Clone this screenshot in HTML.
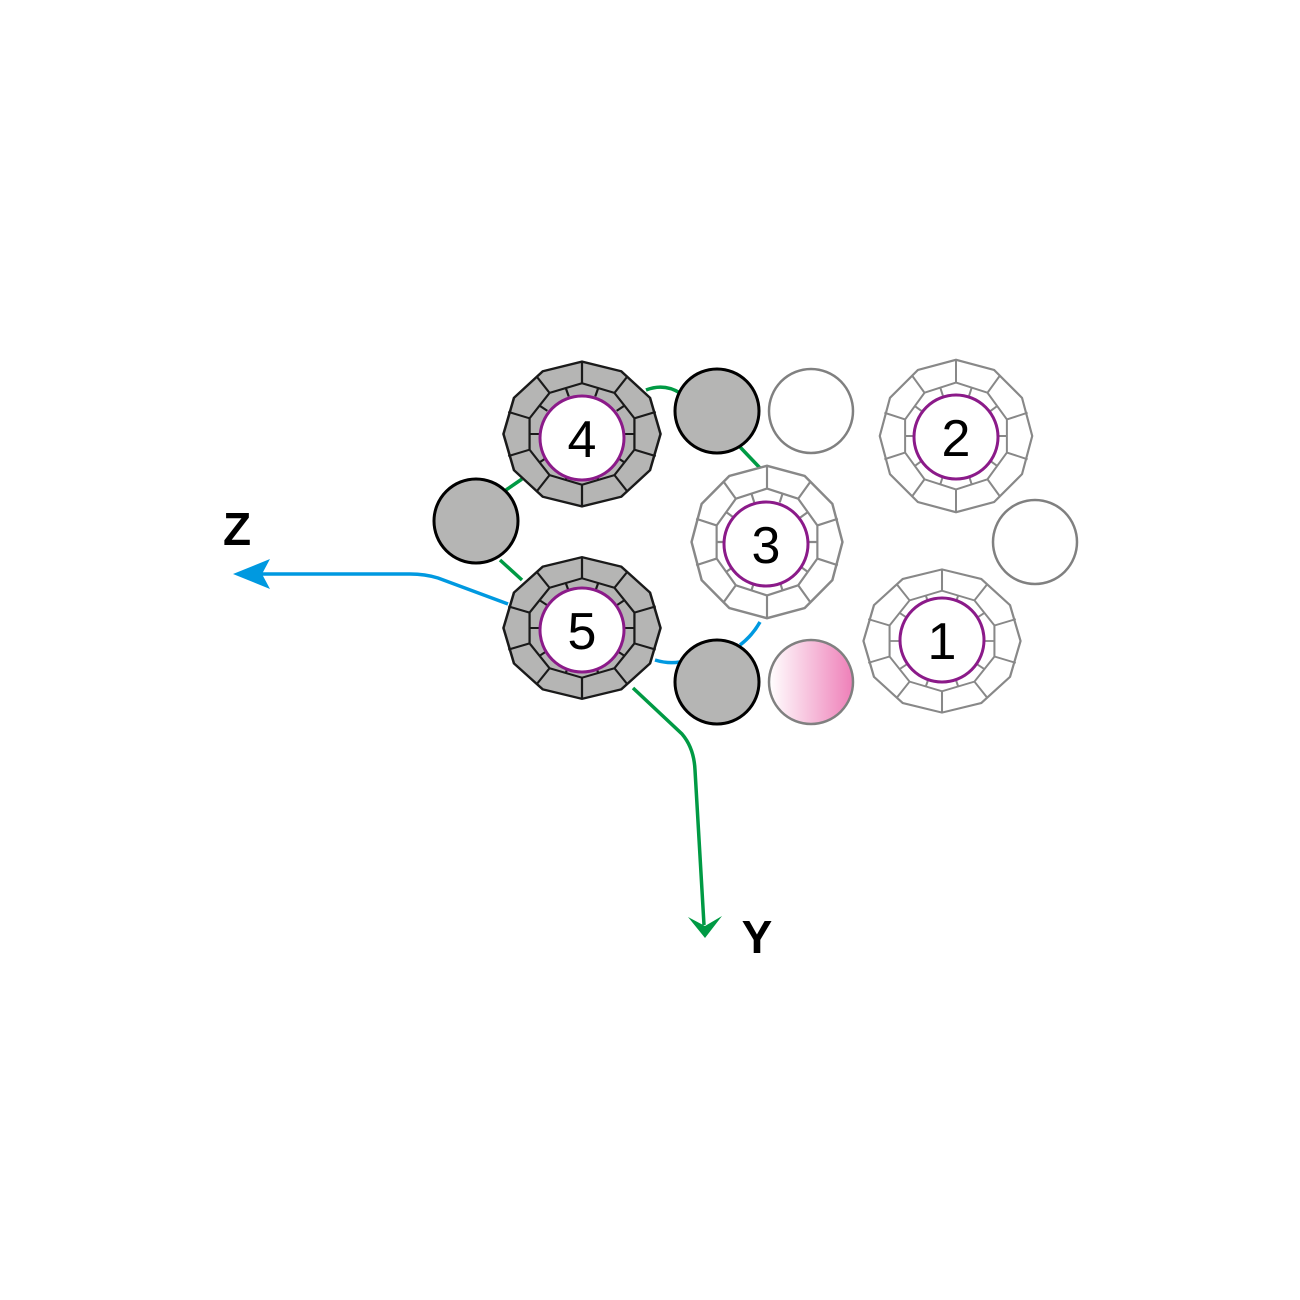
<!DOCTYPE html>
<html><head><meta charset="utf-8"><style>
html,body{margin:0;padding:0;background:#fff;}
svg{display:block;}
text{font-family:"Liberation Sans",sans-serif;}
</style></head><body>
<svg width="1300" height="1300" viewBox="0 0 1300 1300" xmlns="http://www.w3.org/2000/svg">
<defs>
<linearGradient id="pink" x1="0" x2="1" y1="0" y2="0">
<stop offset="0" stop-color="#ffffff"/><stop offset="1" stop-color="#ee7fb8"/>
</linearGradient>
<g id="facets">
<path d="M51.4,16.7 L31.8,43.7 L0,54 L-31.8,43.7 L-51.4,16.7 L-51.4,-16.7 L-31.8,-43.7 L0,-54 L31.8,-43.7 L51.4,-16.7 Z
M51.4,16.7 L72.3,23.5 M31.8,43.7 L44.7,61.5 M0,54 L0,76 M-31.8,43.7 L-44.7,61.5 M-51.4,16.7 L-72.3,23.5 M-51.4,-16.7 L-72.3,-23.5 M-31.8,-43.7 L-44.7,-61.5 M0,-54 L0,-76 M31.8,-43.7 L44.7,-61.5 M51.4,-16.7 L72.3,-23.5
M42,0 L51.4,0 M34,24.7 L41.6,30.2 M13,40 L15.9,48.9 M-13,40 L-15.9,48.9 M-34,24.7 L-41.6,30.2 M-42,0 L-51.4,0 M-34,-24.7 L-41.6,-30.2 M-13,-40 L-15.9,-48.9 M13,-40 L15.9,-48.9 M34,-24.7 L41.6,-30.2"/>
</g>
<polygon id="outer" points="77,0 66.7,38.5 38.5,66.7 0,77 -38.5,66.7 -66.7,38.5 -77,0 -66.7,-38.5 -38.5,-66.7 0,-77 38.5,-66.7 66.7,-38.5"/>
</defs>

<g fill="none" stroke-width="3.5">
<path d="M646,390 Q664,383 680,393" stroke="#009a44"/>
<path d="M740,447 L760,468" stroke="#009a44"/>
<path d="M506,490 L522,479" stroke="#009a44"/>
<path d="M500,560 L522,580" stroke="#009a44"/>
<path d="M655,660 Q668,664 680,662" stroke="#0099e0"/>
<path d="M740,645 Q752,636 760,622" stroke="#0099e0"/>
<path d="M508,604 L438,578 Q425,574 410,574 L255,574" stroke="#0099e0"/>
<path d="M633,688 L682,734 Q694,748 695,770 L704,925" stroke="#009a44"/>
</g>
<polygon points="233,574 270,559 262,574 270,589" fill="#0099e0"/>
<polygon points="705,938 688,917 705,926 722,916" fill="#009a44"/>

<g transform="translate(582,434) scale(1.02,0.94)">
<use href="#outer" fill="#b5b5b4" stroke="#1a1a1a" stroke-width="2.5"/>
<use href="#facets" fill="none" stroke="#1a1a1a" stroke-width="2.2"/>
</g>
<g transform="translate(582,628) scale(1.02,0.92)">
<use href="#outer" fill="#b5b5b4" stroke="#1a1a1a" stroke-width="2.5"/>
<use href="#facets" fill="none" stroke="#1a1a1a" stroke-width="2.2"/>
</g>
<g transform="translate(767,542) scale(0.98,0.99)">
<use href="#outer" fill="#fff" stroke="#888" stroke-width="2.5"/>
<use href="#facets" fill="none" stroke="#888" stroke-width="2.2"/>
</g>
<g transform="translate(956,436) scale(0.99,0.99)">
<use href="#outer" fill="#fff" stroke="#888" stroke-width="2.2"/>
<use href="#facets" fill="none" stroke="#888" stroke-width="2"/>
</g>
<g transform="translate(942,641) scale(1.02,0.93)">
<use href="#outer" fill="#fff" stroke="#888" stroke-width="2.2"/>
<use href="#facets" fill="none" stroke="#888" stroke-width="2"/>
</g>

<circle cx="717" cy="411" r="42" fill="#b5b5b4" stroke="#000" stroke-width="3"/>
<circle cx="476" cy="521" r="42" fill="#b5b5b4" stroke="#000" stroke-width="3"/>
<circle cx="717" cy="682" r="42" fill="#b5b5b4" stroke="#000" stroke-width="3"/>
<circle cx="811" cy="411" r="42" fill="#fff" stroke="#808080" stroke-width="2.5"/>
<circle cx="1035" cy="542" r="42" fill="#fff" stroke="#808080" stroke-width="2.5"/>
<circle cx="811" cy="682" r="42" fill="url(#pink)" stroke="#808080" stroke-width="2.5"/>

<g fill="#fff" stroke="#8b1a89" stroke-width="3">
<circle cx="582" cy="438" r="42"/>
<circle cx="582" cy="630" r="42"/>
<circle cx="766" cy="544" r="42"/>
<circle cx="956" cy="437" r="42"/>
<circle cx="942" cy="640" r="42"/>
</g>
<g font-size="52" text-anchor="middle" fill="#000">
<text x="582" y="457">4</text>
<text x="582" y="649">5</text>
<text x="766" y="563">3</text>
<text x="956" y="456">2</text>
<text x="942" y="659">1</text>
</g>
<text x="237" y="545" font-size="46" font-weight="bold" text-anchor="middle">Z</text>
<text x="757" y="953" font-size="46" font-weight="bold" text-anchor="middle">Y</text>
</svg>
</body></html>
